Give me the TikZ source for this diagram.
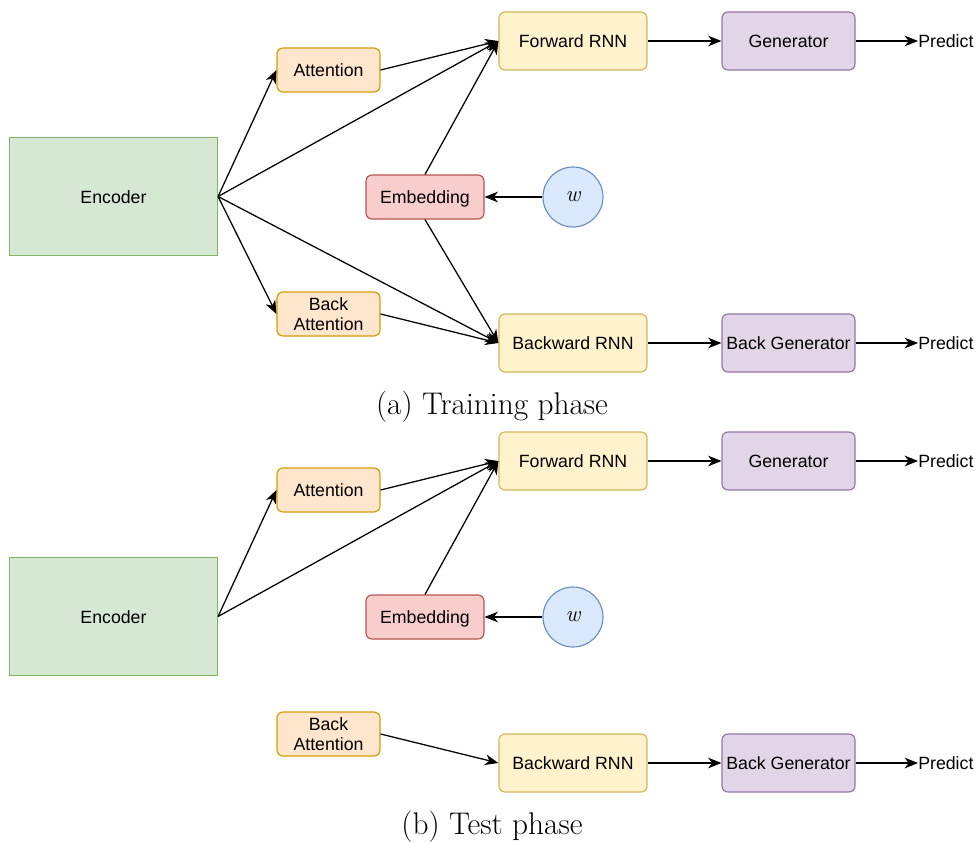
\documentclass[tikz,border=0pt]{standalone}
\usepackage{fontspec}
\setmainfont{Liberation Sans}
\newfontfamily\capfont{Latin Modern Roman}
\usetikzlibrary{arrows.meta}
\definecolor{encF}{HTML}{D5E8D4}\definecolor{encD}{HTML}{82B366}
\definecolor{attF}{HTML}{FFE6CC}\definecolor{attD}{HTML}{D79B00}
\definecolor{rnnF}{HTML}{FFF2CC}\definecolor{rnnD}{HTML}{D6B656}
\definecolor{embF}{HTML}{F8CECC}\definecolor{embD}{HTML}{B85450}
\definecolor{wF}{HTML}{DAE8FC}\definecolor{wD}{HTML}{6C8EBF}
\definecolor{genF}{HTML}{E1D5E7}\definecolor{genD}{HTML}{9673A6}
\tikzset{
  box/.style={draw, line width=0.85pt, align=center, inner sep=0pt, font=\fontsize{13.3}{15}\selectfont},
  oneline/.style={text height=13pt, text depth=3pt},
  encbox/.style={box, oneline, fill=encF, draw=encD, minimum width=156pt, minimum height=88.5pt},
  attbox/.style={box, rounded corners=4.5pt, fill=attF, draw=attD, minimum width=77.25pt, minimum height=33pt},
  rnnbox/.style={box, oneline, rounded corners=4.5pt, fill=rnnF, draw=rnnD, minimum width=111pt, minimum height=43.5pt},
  embbox/.style={box, oneline, rounded corners=4.5pt, fill=embF, draw=embD, minimum width=88.5pt, minimum height=33pt},
  wcirc/.style={box, circle, fill=wF, draw=wD, minimum size=45pt},
  genbox/.style={box, oneline, rounded corners=4.5pt, fill=genF, draw=genD, minimum width=99.75pt, minimum height=43.5pt},
  lbl/.style={inner sep=0pt, oneline, anchor=west, font=\fontsize{13.3}{15}\selectfont},
  captxt/.style={inner sep=0pt, font=\capfont\fontsize{23.5}{26}\selectfont},
  arr/.style={-{Stealth[length=10pt,width=8pt,inset=3pt]}, line width=0.95pt, black},
}
\begin{document}
\begin{tikzpicture}[x=0.75pt,y=-0.75pt]
\useasboundingbox (0,0) rectangle (976,842);
% ---------- (a) Training phase ----------
\node[encbox] (enc1) at (113.5,196.5) {Encoder};
\node[attbox, oneline] (att1) at (328.5,70) {Attention};
\node[attbox] (batt1) at (328.5,314) {Back\\Attention};
\node[rnnbox] (frnn1) at (573,41) {Forward RNN};
\node[rnnbox] (brnn1) at (573,343) {Backward RNN};
\node[embbox] (emb1) at (425,197) {Embedding};
\node[wcirc] (w1) at (573,197) {\capfont\itshape\fontsize{17}{20}\selectfont w};
\node[genbox] (gen1) at (788.5,41) {Generator};
\node[genbox] (bgen1) at (788.5,343) {Back Generator};
\node[lbl] (pr1) at (918,41) {Predict};
\node[lbl] (pr2) at (918,343) {Predict};
\node[captxt] (capa) at (492,407) {(a) Training phase};
\draw[arr] (enc1.east) -- (att1.west);
\draw[arr] (enc1.east) -- (frnn1.west);
\draw[arr] (enc1.east) -- (batt1.west);
\draw[arr] (enc1.east) -- (brnn1.west);
\draw[arr] (att1.east) -- (frnn1.west);
\draw[arr] (emb1.north) -- (frnn1.west);
\draw[arr] (emb1.south) -- (brnn1.west);
\draw[arr] (batt1.east) -- (brnn1.west);
\draw[arr] (w1.west) -- (emb1.east);
\draw[arr] (frnn1.east) -- (gen1.west);
\draw[arr] (brnn1.east) -- (bgen1.west);
\draw[arr] (gen1.east) -- (pr1.west);
\draw[arr] (bgen1.east) -- (pr2.west);
% ---------- (b) Test phase ----------
\node[encbox] (enc2) at (113.5,616.5) {Encoder};
\node[attbox, oneline] (att2) at (328.5,490) {Attention};
\node[attbox] (batt2) at (328.5,734) {Back\\Attention};
\node[rnnbox] (frnn2) at (573,461) {Forward RNN};
\node[rnnbox] (brnn2) at (573,763) {Backward RNN};
\node[embbox] (emb2) at (425,617) {Embedding};
\node[wcirc] (w2) at (573,617) {\capfont\itshape\fontsize{17}{20}\selectfont w};
\node[genbox] (gen2) at (788.5,461) {Generator};
\node[genbox] (bgen2) at (788.5,763) {Back Generator};
\node[lbl] (pr3) at (918,461) {Predict};
\node[lbl] (pr4) at (918,763) {Predict};
\node[captxt] (capb) at (492,827) {(b) Test phase};
\draw[arr] (enc2.east) -- (att2.west);
\draw[arr] (enc2.east) -- (frnn2.west);
\draw[arr] (att2.east) -- (frnn2.west);
\draw[arr] (emb2.north) -- (frnn2.west);
\draw[arr] (w2.west) -- (emb2.east);
\draw[arr] (batt2.east) -- (brnn2.west);
\draw[arr] (frnn2.east) -- (gen2.west);
\draw[arr] (brnn2.east) -- (bgen2.west);
\draw[arr] (gen2.east) -- (pr3.west);
\draw[arr] (bgen2.east) -- (pr4.west);
\end{tikzpicture}
\end{document}
